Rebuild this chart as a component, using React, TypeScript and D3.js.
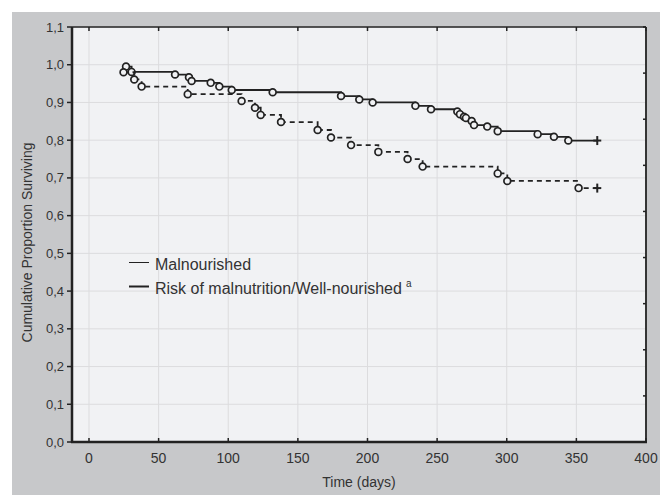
import React from 'react';
import * as d3 from 'd3';

// Kaplan-Meier steps
const wellTimes = [26.6, 30.6, 61.8, 71.8, 73.7, 87.4, 93.6, 102.5, 131.9, 181, 194.1, 203.7, 234.4, 245.6, 264.5, 266.4, 269.3, 270.7, 274.8, 276.5, 286, 293.5, 322.2, 333.9, 344.2];
const wellSurv = [0.995, 0.981, 0.974, 0.967, 0.957, 0.952, 0.942, 0.933, 0.927, 0.917, 0.908, 0.9, 0.891, 0.882, 0.876, 0.869, 0.862, 0.859, 0.851, 0.84, 0.836, 0.824, 0.816, 0.809, 0.799];

const malTimes = [24.8, 32.5, 37.8, 70.9, 109.6, 119.2, 123.3, 137.9, 164.2, 173.8, 188.2, 207.8, 228.8, 239.6, 293.5, 300.4, 351.6];
const malSurv = [0.98, 0.961, 0.942, 0.922, 0.904, 0.886, 0.867, 0.848, 0.827, 0.807, 0.787, 0.769, 0.75, 0.73, 0.712, 0.692, 0.673];

const censorTime = 365;
const xTicks = [0, 50, 100, 150, 200, 250, 300, 350, 400];
const yTicks = [0, 0.1, 0.2, 0.3, 0.4, 0.5, 0.6, 0.7, 0.8, 0.9, 1.0, 1.1];
const legendLabels = ['Malnourished', 'Risk of malnutrition/Well-nourished'];

const W = 660;
const H = 495;
const left = 72, right = 646, top = 27, bottom = 442;
const ink = '#222';
const textCol = '#333';
const font = '"Liberation Sans", Arial, sans-serif';

const App = () => {
  const x = d3.scaleLinear().domain([-12.2, 400]).range([left, right]);
  const y = d3.scaleLinear().domain([0, 1.1]).range([bottom, top]);
  const fmt = (d: number) => d.toFixed(1).replace('.', ',');

  const line = d3
    .line<[number, number]>()
    .x(d => x(d[0]))
    .y(d => y(d[1]))
    .curve(d3.curveStepAfter);

  const pts = (ts: number[], ss: number[]): [number, number][] => {
    const p = ts.map((t, i) => [t, ss[i]] as [number, number]);
    p.push([censorTime, ss[ss.length - 1]]);
    return p;
  };

  const series = [
    { times: wellTimes, surv: wellSurv, dash: null },
    { times: malTimes, surv: malSurv, dash: '5,4' },
  ];

  // right-hand axis has its own 9 divisions
  const rightTicks = d3.range(10).map(i => top + (i * (bottom - top)) / 9);

  return (
    <svg width={W} height={H} style={{ position: 'absolute', left: 0, top: 0, background: '#fff' }} fontFamily={font}>
      <rect x={12} y={12} width={W - 12} height={H - 12} fill="#c7c8ca" />
      <rect x={left} y={top} width={right - left} height={bottom - top} fill="#f1f2f4" />

      {xTicks.map(t => (
        <line key={'gx' + t} x1={x(t)} x2={x(t)} y1={top} y2={bottom} stroke="#dcdcde" strokeWidth={1} />
      ))}
      {yTicks.map(t => (
        <line key={'gy' + t} x1={left} x2={right} y1={y(t)} y2={y(t)} stroke="#dcdcde" strokeWidth={1} />
      ))}

      {/* frame */}
      <line x1={left} x2={right} y1={top} y2={top} stroke={ink} strokeWidth={1.5} />
      <line x1={right} x2={right} y1={top} y2={bottom} stroke={ink} strokeWidth={1.8} />
      <line x1={left} x2={left} y1={top} y2={bottom + 1} stroke={ink} strokeWidth={2.5} />
      <line x1={left - 1} x2={right + 1} y1={bottom} y2={bottom} stroke={ink} strokeWidth={2.5} />

      {xTicks.map(t => (
        <g key={'tx' + t}>
          <line x1={x(t)} x2={x(t)} y1={bottom} y2={bottom - 4} stroke={ink} strokeWidth={1.5} />
          <line x1={x(t)} x2={x(t)} y1={top} y2={top + 4} stroke={ink} strokeWidth={1.5} />
          <text x={x(t)} y={463} textAnchor="middle" fontSize={14} fill={textCol}>{t}</text>
        </g>
      ))}
      {yTicks.map(t => (
        <g key={'ty' + t}>
          <line x1={left - 5} x2={left} y1={y(t)} y2={y(t)} stroke={ink} strokeWidth={1.5} />
          <text x={64} y={y(t) + 4.5} textAnchor="end" fontSize={13} fill={textCol}>{fmt(t)}</text>
        </g>
      ))}
      {rightTicks.map((py, i) => (
        <line key={'tr' + i} x1={right - 3} x2={right} y1={py} y2={py} stroke={ink} strokeWidth={1.5} />
      ))}

      <text x={(left + right) / 2} y={487} textAnchor="middle" fontSize={14} fill={textCol}>Time (days)</text>
      <text transform={`translate(32,${(top + bottom) / 2 + 8}) rotate(-90)`} textAnchor="middle" fontSize={14} fill={textCol}>
        Cumulative Proportion Surviving
      </text>

      {series.map((s, k) => {
        const p = pts(s.times, s.surv);
        const last = p[p.length - 1];
        return (
          <g key={'s' + k}>
            <path d={line(p) || ''} fill="none" stroke={ink} strokeWidth={1.8} strokeDasharray={s.dash || undefined} />
            {s.times.map((t, i) => (
              <circle key={i} cx={x(t)} cy={y(s.surv[i])} r={3.4} fill="#f1f2f4" stroke={ink} strokeWidth={1.7} />
            ))}
            <line x1={x(last[0]) - 4} x2={x(last[0]) + 4} y1={y(last[1])} y2={y(last[1])} stroke={ink} strokeWidth={2} />
            <line x1={x(last[0])} x2={x(last[0])} y1={y(last[1]) - 4.5} y2={y(last[1]) + 4.5} stroke={ink} strokeWidth={2} />
          </g>
        );
      })}

      {/* legend */}
      <line x1={129} x2={149} y1={262.5} y2={262.5} stroke={ink} strokeWidth={1} />
      <text x={155} y={269.5} fontSize={16} fill={textCol}>{legendLabels[0]}</text>
      <line x1={129} x2={149} y1={286.5} y2={286.5} stroke={ink} strokeWidth={2} />
      <text x={155} y={293.5} fontSize={16} fill={textCol}>
        {legendLabels[1]}
        <tspan dx={4} dy={-7} fontSize={10}>a</tspan>
      </text>
    </svg>
  );
};

export default App;
